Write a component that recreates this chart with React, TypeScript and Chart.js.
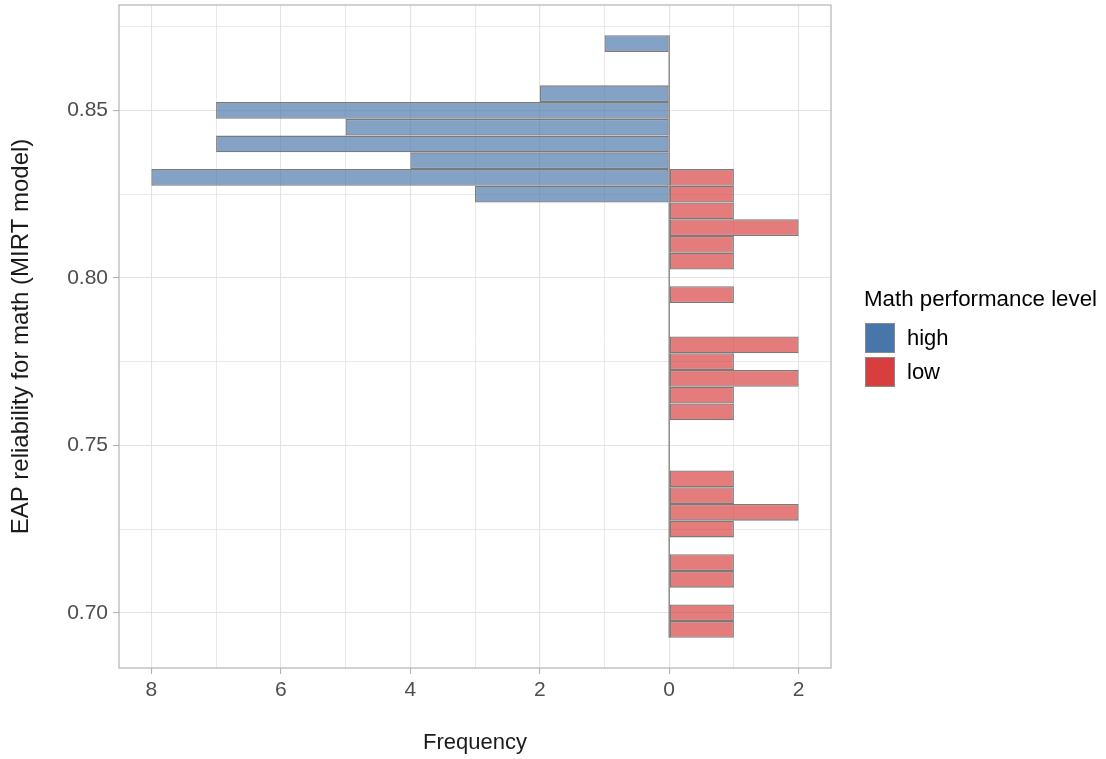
import React, { useEffect, useRef } from 'react';
import { Chart, registerables } from 'chart.js';

Chart.register(...registerables);

// Histogram bin centres (bin width 0.005)
const BIN_CENTERS = [
  0.695, 0.7, 0.705, 0.71, 0.715, 0.72, 0.725, 0.73, 0.735, 0.74, 0.745, 0.75,
  0.755, 0.76, 0.765, 0.77, 0.775, 0.78, 0.785, 0.79, 0.795, 0.8, 0.805, 0.81,
  0.815, 0.82, 0.825, 0.83, 0.835, 0.84, 0.845, 0.85, 0.855, 0.86, 0.865, 0.87,
];
// Outer edges of the histogram bins
const BIN_RANGE = [0.6925, 0.8725];

const HIGH_COUNTS = [
  0, 0, 0, 0, 0, 0, 0, 0, 0, 0, 0, 0,
  0, 0, 0, 0, 0, 0, 0, 0, 0, 0, 0, 0,
  0, 0, 3, 8, 4, 7, 5, 7, 2, 0, 0, 1,
];
const LOW_COUNTS = [
  1, 1, 0, 1, 1, 0, 1, 2, 1, 1, 0, 0,
  0, 1, 1, 2, 1, 2, 0, 0, 1, 0, 1, 1,
  2, 1, 1, 1, 0, 0, 0, 0, 0, 0, 0, 0,
];

const SERIES_NAMES = ['high', 'low'];
const LEGEND_TITLE = 'Math performance level';
const X_TITLE = 'Frequency';
const Y_TITLE = 'EAP reliability for math (MIRT model)';

const X_TICKS = [-8, -7, -6, -5, -4, -3, -2, -1, 0, 1, 2];
const X_LABELED = [-8, -6, -4, -2, 0, 2];
const Y_TICKS = [0.7, 0.725, 0.75, 0.775, 0.8, 0.825, 0.85, 0.875];
const Y_LABELED = [0.7, 0.75, 0.8, 0.85];
const X_RANGE = [-8.5, 2.5];
const Y_RANGE = [0.6835, 0.8815];

const BLUE = 'rgb(72,118,170)';
const RED = 'rgb(216,62,62)';
const BLUE_FILL = 'rgba(72,118,170,0.68)';
const RED_FILL = 'rgba(216,62,62,0.68)';
const FONT = "'Liberation Sans', Arial, sans-serif";

const isIn = (arr: number[], v: number) => arr.some((a) => Math.abs(a - v) < 1e-9);

const panelBorder = {
  id: 'panelBorder',
  afterDatasetsDraw(chart: any) {
    const { ctx, chartArea } = chart;
    const { left, top, right, bottom } = chartArea;
    ctx.save();
    ctx.strokeStyle = '#b3b3b3';
    ctx.lineWidth = 1.2;
    ctx.strokeRect(left, top, right - left, bottom - top);
    ctx.restore();
  },
};

export default function App() {
  const ref = useRef<HTMLCanvasElement | null>(null);

  useEffect(() => {
    if (!ref.current) return;
    const highData = BIN_CENTERS.map((y, i) => ({ x: -HIGH_COUNTS[i], y }));
    const lowData = BIN_CENTERS.map((y, i) => ({ x: LOW_COUNTS[i], y }));
    const chart = new Chart(ref.current, {
      type: 'bar',
      data: {
        datasets: [
          {
            type: 'line',
            label: 'zero',
            data: BIN_RANGE.map((y) => ({ x: 0, y })),
            borderColor: '#7f7f7f',
            borderWidth: 1.3,
            pointRadius: 0,
            order: 3,
          } as any,
          {
            label: SERIES_NAMES[0],
            data: highData,
            backgroundColor: BLUE_FILL,
            borderColor: '#7a7a7a',
            borderWidth: 1.3,
            borderSkipped: false,
            inflateAmount: 0,
            grouped: false,
            barPercentage: 1,
            categoryPercentage: 1,
            order: 2,
          } as any,
          {
            label: SERIES_NAMES[1],
            data: lowData,
            backgroundColor: RED_FILL,
            borderColor: '#7a7a7a',
            borderWidth: 1.3,
            borderSkipped: false,
            inflateAmount: 0,
            grouped: false,
            barPercentage: 1,
            categoryPercentage: 1,
            order: 1,
          } as any,
        ],
      },
      options: {
        indexAxis: 'y',
        responsive: false,
        animation: false,
        devicePixelRatio: 1,
        layout: { padding: { left: 0, right: 275, top: 5, bottom: 0 } },
        plugins: { legend: { display: false }, tooltip: { enabled: false } },
        scales: {
          x: {
            type: 'linear',
            position: 'bottom',
            offset: false,
            min: X_RANGE[0],
            max: X_RANGE[1],
            afterBuildTicks: (scale: any) => {
              scale.ticks = X_TICKS.map((v) => ({ value: v }));
            },
            afterFit: (scale: any) => {
              scale.height = 91;
            },
            ticks: {
              autoSkip: false,
              maxRotation: 0,
              padding: 4,
              color: '#4d4d4d',
              font: { family: FONT, size: 21 },
              callback: (v: any) => (isIn(X_LABELED, Number(v)) ? String(Math.abs(Number(v))) : ''),
            },
            grid: {
              offset: false,
              color: '#e3e3e3',
              lineWidth: (c: any) => (isIn(X_LABELED, c.tick?.value) ? 1.1 : 0.8),
              tickColor: (c: any) => (isIn(X_LABELED, c.tick?.value) ? '#b3b3b3' : 'rgba(0,0,0,0)'),
              tickLength: 6,
              drawTicks: true,
            },
            border: { display: false },
            title: {
              display: true,
              text: X_TITLE,
              color: '#1a1a1a',
              font: { family: FONT, size: 22 },
              padding: { top: 0, bottom: 3 },
            },
          },
          y: {
            type: 'linear',
            position: 'left',
            offset: false,
            min: Y_RANGE[0],
            max: Y_RANGE[1],
            afterBuildTicks: (scale: any) => {
              scale.ticks = Y_TICKS.map((v) => ({ value: v }));
            },
            afterFit: (scale: any) => {
              scale.width = 119;
              scale.paddingTop = 0;
              scale.paddingBottom = 0;
            },
            ticks: {
              autoSkip: false,
              padding: 5,
              color: '#4d4d4d',
              font: { family: FONT, size: 21 },
              callback: (v: any) => (isIn(Y_LABELED, Number(v)) ? Number(v).toFixed(2) : ''),
            },
            grid: {
              offset: false,
              color: '#e3e3e3',
              lineWidth: (c: any) => (isIn(Y_LABELED, c.tick?.value) ? 1.1 : 0.8),
              tickColor: (c: any) => (isIn(Y_LABELED, c.tick?.value) ? '#b3b3b3' : 'rgba(0,0,0,0)'),
              tickLength: 6,
              drawTicks: true,
            },
            border: { display: false },
            title: {
              display: true,
              text: Y_TITLE,
              color: '#1a1a1a',
              font: { family: FONT, size: 24 },
              padding: { top: 7, bottom: 0 },
            },
          },
        },
      } as any,
      plugins: [panelBorder],
    });
    return () => chart.destroy();
  }, []);

  const legendItems = [
    { name: SERIES_NAMES[0], color: BLUE },
    { name: SERIES_NAMES[1], color: RED },
  ];

  return (
    <div style={{ position: 'absolute', left: 0, top: 0, width: 1106, height: 759, background: '#fff' }}>
      <canvas ref={ref} width={1106} height={759} style={{ display: 'block' }} />
      <div style={{ position: 'absolute', left: 864, top: 286, fontFamily: FONT, color: '#000' }}>
        <div style={{ fontSize: 22.3, lineHeight: '26px', whiteSpace: 'nowrap' }}>{LEGEND_TITLE}</div>
        <div style={{ marginTop: 9 }}>
          {legendItems.map((it) => (
            <div key={it.name} style={{ display: 'flex', alignItems: 'center', height: 34 }}>
              <div
                style={{
                  width: 30,
                  height: 30,
                  boxSizing: 'border-box',
                  background: it.color,
                  border: '1.5px solid #8a8a8a',
                  marginLeft: 1,
                }}
              />
              <div style={{ fontSize: 22, marginLeft: 12 }}>{it.name}</div>
            </div>
          ))}
        </div>
      </div>
    </div>
  );
}
